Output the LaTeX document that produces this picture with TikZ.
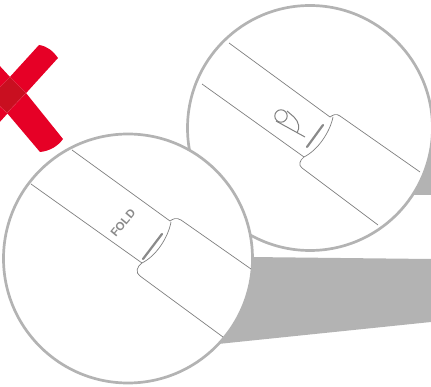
\documentclass[tikz,border=0pt]{standalone}
\usepackage{fontspec}
\setsansfont{Liberation Sans}
\usepackage{xcolor}
\usetikzlibrary{calc}
\definecolor{ringgray}{HTML}{B3B3B3}
\definecolor{markgray}{HTML}{8A8A8A}
\definecolor{linegray}{HTML}{808080}
\definecolor{crossred}{HTML}{E60026}
\definecolor{crossdark}{HTML}{C90F20}

\begin{document}
\begin{tikzpicture}[
        x=1pt, y=-1pt,
        lens/.style={draw=ringgray, line width=2.7pt, fill=white},
        wedge/.style={fill=ringgray},
        band/.style={draw=linegray, line width=0.7pt},
        foldmark/.style={draw=markgray, line width=2.2pt, line cap=round},
        crossarm/.style={fill=crossred},
        foldtext/.style={font=\sffamily\bfseries\fontsize{11.5}{11.5}\selectfont, text=markgray, inner sep=0pt}
    ]

        \useasboundingbox (0, 0) rectangle (431, 387);

        % red cross
        \fill[crossarm] (-2, 124) -- (58, 58) .. controls (53, 51) and (47, 46) .. (39, 45) -- (-2, 90) -- cycle;
        \fill[crossarm] (-2, 64) -- (10, 77) -- (26, 93) -- (63, 139) .. controls (58, 146) and (50, 151) .. (40, 152) -- (7, 113) -- (-2, 102) -- cycle;
        \fill[crossdark, draw=crossred!70!white, line width=0.3pt] (10, 77) -- (26, 93) -- (7, 113) -- (-10, 97) -- cycle;

        % back lens
        \fill[wedge] (400, 195) -- (431, 195) -- (431, 150) -- cycle;
        \draw[lens] (310, 128) circle[radius=122.5];

        \draw[band] (229, 43) -- (330, 117);
        \draw[band] (202, 84) -- (304, 157);
        \draw[band] (330, 117) .. controls (333, 115) and (336, 113) .. (340, 116) -- (420, 172);
        \draw[band] (333, 117) .. controls (330, 132) and (318, 150) .. (304, 157)
            .. controls (300, 160) and (298, 165) .. (302, 168) -- (378, 225);
        \draw[foldmark] (323, 125) -- (307, 147);

        % finger icon
        \draw[band, line width=1pt] (281, 116) circle[radius=6.2];
        \draw[band, line width=1pt] (276, 121) -- (305, 137);
        \draw[band, line width=1pt] (287, 111) -- (294, 117) .. controls (299, 122) and (300, 128) .. (297, 133);

        % front lens
        \fill[wedge] (250, 257) -- (431, 259) -- (431, 322) -- (218, 344) -- cycle;
        \draw[lens] (128, 258.5) circle[radius=124.5];

        \draw[band] (72, 150) -- (170, 221);
        \draw[band] (31, 184) -- (142, 263);
        \draw[band] (170, 221) .. controls (173, 219) and (176, 217) .. (181, 220) -- (251, 269);
        \draw[band] (171, 222) .. controls (168, 238) and (156, 256) .. (142, 263)
            .. controls (137, 266) and (135, 273) .. (140, 276) -- (223, 337);
        \draw[foldmark] (162, 234) -- (143, 259);

        \node[foldtext, rotate=50] (foldlabel) at (123, 223) {FOLD};

    \end{tikzpicture}
\end{document}
